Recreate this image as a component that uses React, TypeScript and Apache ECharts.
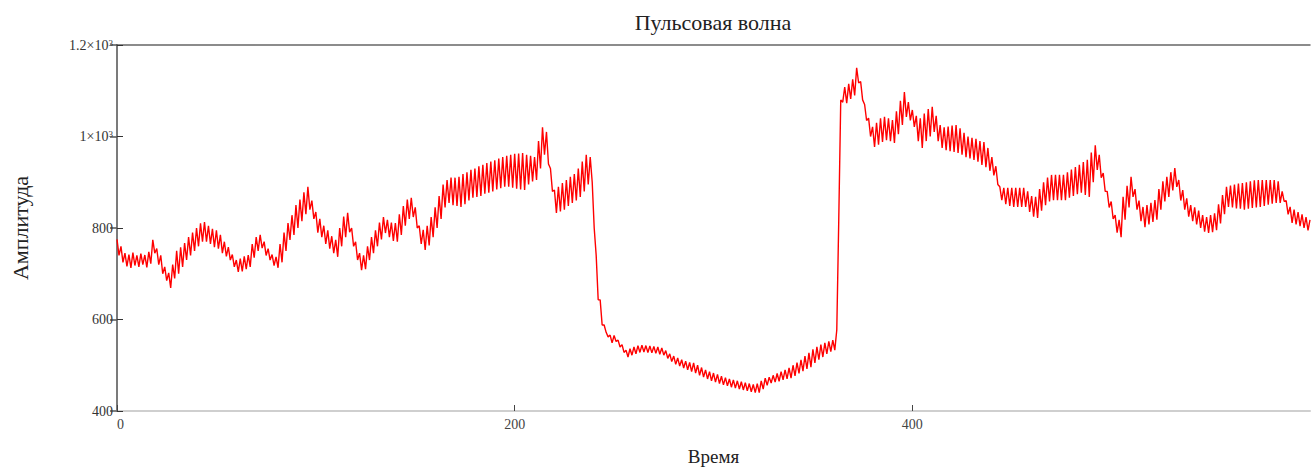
import React, { useEffect, useRef } from "react";
import * as echarts from "echarts";

const TITLE = "Пульсовая волна";
const X_NAME = "Время";
const Y_NAME = "Амплитуда";
const TIME_STEP = 2; // spacing of the envelope readings along the time axis
const X_TICKS = [0, 200, 400];
const Y_TICK_LABELS: Record<number, string> = {
  400: "400",
  600: "600",
  800: "800",
  1000: "1×10{sup|3}",
  1200: "1.2×10{sup|3}",
};

// upper edge of the pulse band at t = 0, 2, 4, ... 600
const upper = [
  775, 760, 745, 742, 746, 740, 744, 741, 748, 774,
  755, 740, 715, 702, 720, 750, 758, 767, 780, 790,
  800, 810, 813, 805, 798, 795, 785, 770, 758, 742,
  730, 733, 738, 741, 765, 780, 785, 770, 755, 742,
  737, 765, 790, 811, 828, 850, 862, 878, 890, 860,
  835, 820, 805, 795, 782, 774, 800, 825, 833, 800,
  770, 745, 740, 760, 780, 795, 812, 824, 818, 812,
  811, 830, 848, 862, 866, 845, 805, 796, 805, 824,
  845, 870, 895, 905, 910, 910, 912, 918, 922, 927,
  930, 935, 938, 942, 945, 948, 952, 955, 958, 960,
  962, 963, 964, 960, 958, 955, 990, 1020, 1010, 930,
  883, 890, 898, 905, 912, 918, 930, 945, 960, 955,
  800, 643, 588, 572, 566, 565, 555, 545, 533, 536,
  540, 543, 544, 543, 542, 541, 540, 538, 532, 525,
  520, 516, 512, 509, 506, 505, 500, 495, 490, 486,
  483, 480, 476, 473, 470, 468, 466, 464, 462, 460,
  458, 460, 466, 472, 474, 478, 482, 486, 490, 494,
  500, 506, 512, 520, 527, 535, 540, 545, 549, 552,
  555, 577, 1080, 1108, 1115, 1125, 1150, 1120, 1070, 1040,
  1021, 1030, 1040, 1043, 1040, 1036, 1055, 1078, 1097, 1075,
  1058, 1045, 1040, 1050, 1060, 1065, 1045, 1025, 1020, 1022,
  1024, 1025, 1018, 1008, 1000, 997, 995, 990, 988, 975,
  955, 935, 890, 888, 888, 888, 888, 888, 888, 880,
  870, 868, 885, 900, 910, 916, 916, 916, 916, 922,
  928, 933, 938, 944, 949, 965, 981, 960, 920, 880,
  858, 828, 818, 868, 892, 912, 885, 860, 846, 850,
  855, 861, 885, 902, 912, 922, 931, 905, 883, 865,
  850, 845, 838, 828, 824, 828, 832, 852, 872, 890,
  893, 895, 897, 898, 900, 902, 904, 905, 905, 905,
  905, 905, 902, 880, 860, 846, 840, 835, 830, 824,
  818,
];

// lower edge of the pulse band at t = 0, 2, 4, ... 600
const lower = [
  740, 725, 716, 713, 718, 715, 720, 714, 722, 745,
  720, 700, 685, 669, 690, 700, 715, 730, 740, 750,
  760, 770, 770, 765, 758, 755, 745, 738, 730, 715,
  704, 705, 710, 715, 735, 750, 756, 740, 730, 718,
  713, 725, 750, 774, 785, 800, 815, 830, 840, 820,
  790, 780, 765, 755, 745, 737, 760, 780, 791, 760,
  730, 708, 710, 730, 745, 760, 775, 789, 780, 772,
  770, 785, 805, 820, 824, 800, 765, 752, 762, 780,
  800, 820, 845, 855, 850, 848, 846, 852, 860, 866,
  868, 870, 875, 877, 880, 884, 887, 890, 890, 888,
  886, 884, 883, 895, 902, 905, 930, 960, 940, 880,
  833, 836, 840, 848, 855, 860, 868, 880, 895, 900,
  740, 643, 588, 562, 549, 552, 540, 528, 518, 522,
  525, 528, 529, 528, 527, 526, 524, 522, 515, 508,
  502, 498, 494, 490, 486, 483, 478, 474, 470, 466,
  463, 460, 457, 455, 452, 450, 448, 446, 444, 442,
  440, 440, 448, 456, 461, 463, 465, 468, 470, 472,
  477, 482, 487, 492, 496, 505, 512, 518, 525, 530,
  533, 818, 1075, 1073, 1082, 1090, 1117, 1080, 1035, 1000,
  977, 982, 988, 992, 990, 986, 1005, 1025, 1043, 1035,
  1021, 990, 975, 990, 1000, 1010, 990, 975, 970, 968,
  966, 964, 960, 955, 952, 949, 945, 938, 933, 925,
  915, 895, 861, 852, 848, 846, 846, 846, 846, 835,
  825, 822, 838, 850, 858, 861, 861, 861, 861, 866,
  870, 874, 877, 872, 868, 900, 927, 910, 880, 845,
  820, 790, 780, 818, 845, 868, 840, 815, 802, 808,
  813, 818, 840, 858, 868, 882, 890, 860, 840, 825,
  815, 808, 800, 792, 789, 791, 795, 810, 830, 846,
  845, 843, 842, 840, 842, 844, 845, 846, 848, 851,
  853, 855, 855, 858, 830, 811, 808, 804, 800, 795,
  789,
];

const SERIF = "'Liberation Serif', 'DejaVu Serif', serif";

export default function App() {
  const ref = useRef<HTMLDivElement>(null);

  useEffect(() => {
    if (!ref.current) return;
    const chart = echarts.init(ref.current, null, { renderer: "svg" });
    // each pulse: top of the band, then the bottom half a step later
    const data: number[][] = [];
    upper.forEach((u, i) => {
      const t = i * TIME_STEP;
      data.push([t, u]);
      if (i < upper.length - 1) data.push([t + TIME_STEP / 2, lower[i]]);
    });
    const labelRich = {
      sup: { fontSize: 9, fontFamily: SERIF, color: "#333", verticalAlign: "top", lineHeight: 12 },
    };
    chart.setOption({
      animation: false,
      backgroundColor: "#ffffff",
      title: {
        text: TITLE,
        left: 708,
        top: 6,
        textAlign: "center",
        textStyle: { fontFamily: SERIF, fontSize: 22, fontWeight: "normal", color: "#222" },
      },
      grid: {
        left: 117,
        right: 5,
        top: 45,
        bottom: 57,
        containLabel: false,
        outerBoundsMode: "none",
      },
      xAxis: [
        {
          type: "value",
          position: "bottom",
          min: 0,
          max: 600,
          interval: 200,
          name: X_NAME,
          nameLocation: "middle",
          nameGap: 35,
          nameTextStyle: { fontFamily: SERIF, fontSize: 19, color: "#222", lineHeight: 20 },
          axisLine: { show: true, lineStyle: { color: "#cfcfcf", width: 2 } },
          axisTick: {
            show: true,
            inside: true,
            length: 6,
            lineStyle: { color: "#444", width: 1 },
          },
          axisLabel: {
            fontFamily: SERIF,
            fontSize: 14,
            color: "#444",
            margin: 6,
            showMaxLabel: false,
            alignMinLabel: "left",
            formatter: (v: number) => (X_TICKS.includes(v) ? String(v) : ""),
          },
          splitLine: { show: false },
        },
        {
          type: "value",
          position: "top",
          min: 0,
          max: 600,
          interval: 200,
          axisLine: { show: true, lineStyle: { color: "#666", width: 1.5 } },
          axisTick: { show: false },
          axisLabel: { show: false },
          splitLine: { show: false },
        },
      ],
      yAxis: [
        {
          type: "value",
          position: "left",
          min: 400,
          max: 1200,
          interval: 200,
          name: Y_NAME,
          nameLocation: "middle",
          nameGap: 86,
          nameRotate: 90,
          nameTextStyle: { fontFamily: SERIF, fontSize: 22, color: "#222" },
          axisLine: { show: true, lineStyle: { color: "#555", width: 2 } },
          axisTick: {
            show: true,
            inside: true,
            length: 6,
            lineStyle: { color: "#333", width: 1 },
          },
          axisLabel: {
            fontFamily: SERIF,
            fontSize: 14,
            color: "#333",
            margin: 4,
            formatter: (v: number) => Y_TICK_LABELS[v] ?? "",
            rich: labelRich,
          },
          splitLine: { show: false },
        },
        {
          type: "value",
          position: "right",
          min: 400,
          max: 1200,
          interval: 200,
          axisLine: { show: true, lineStyle: { color: "#888", width: 1.5 } },
          axisTick: {
            show: true,
            inside: true,
            length: 7,
            lineStyle: { color: "#555", width: 1.5 },
          },
          axisLabel: { show: false },
          splitLine: { show: false },
        },
      ],
      series: [
        {
          type: "line",
          data,
          xAxisIndex: 0,
          yAxisIndex: 0,
          showSymbol: false,
          symbol: "none",
          lineStyle: { color: "#ff0000", width: 1.4 },
          z: 3,
        },
      ],
    });
    return () => chart.dispose();
  }, []);

  return (
    <div
      ref={ref}
      style={{ position: "fixed", left: 0, top: 0, width: 1315, height: 468, background: "#fff" }}
    />
  );
}
